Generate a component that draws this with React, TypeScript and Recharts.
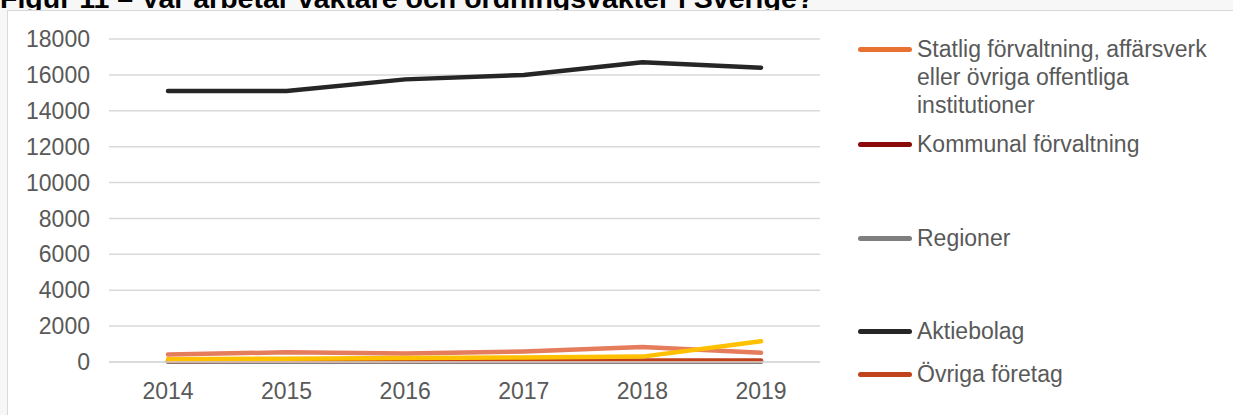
import React from 'react';
import { LineChart, Line, XAxis, YAxis, CartesianGrid, Legend } from 'recharts';

const years = ['2014', '2015', '2016', '2017', '2018', '2019'];
const statlig = [420, 540, 480, 590, 830, 510];
const kommunal = [40, 40, 40, 40, 40, 40];
const regioner = [10, 10, 10, 10, 10, 10];
const aktiebolag = [15100, 15100, 15750, 16000, 16700, 16400];
const ovrigaForetag = [60, 70, 80, 80, 90, 80];
const ovrigt = [160, 180, 220, 250, 300, 1160];
const yTicks = [0, 2000, 4000, 6000, 8000, 10000, 12000, 14000, 16000, 18000];

const FONT = '"Liberation Sans", Arial, sans-serif';

// the yellow series' legend entry lies below the visible area in the reference
const series = [
  { key: 'statlig', name: 'Statlig förvaltning, affärsverk eller övriga offentliga institutioner', lines: ['Statlig förvaltning, affärsverk', 'eller övriga offentliga', 'institutioner'], color: '#E57C5C', legendColor: '#E97132', top: 49 },
  { key: 'kommunal', name: 'Kommunal förvaltning', color: '#8B0A0A', legendColor: '#8B0A0A', top: 144 },
  { key: 'regioner', name: 'Regioner', color: '#7F7F7F', legendColor: '#7F7F7F', top: 238 },
  { key: 'aktiebolag', name: 'Aktiebolag', color: '#262626', legendColor: '#262626', top: 331 },
  { key: 'ovrigaForetag', name: 'Övriga företag', color: '#C0431C', legendColor: '#C0431C', top: 374 },
  { key: 'ovrigt', name: 'Övrigt', color: '#FFC000', legendColor: '#FFC000', top: null },
];

const data = years.map((year, i) => ({
  year,
  statlig: statlig[i],
  kommunal: kommunal[i],
  regioner: regioner[i],
  aktiebolag: aktiebolag[i],
  ovrigaForetag: ovrigaForetag[i],
  ovrigt: ovrigt[i],
}));

// legend drawn like the Excel one: line icon then (possibly wrapped) text
const renderLegend = () => (
  <div style={{ position: 'relative', width: 383, height: 415 }}>
    {series.filter(s => s.top !== null).map(s => {
      const lines = s.lines || [s.name];
      return (
        <div key={s.key} style={{ position: 'absolute', left: 0, top: (s.top as number) - 14 }}>
          <div style={{ position: 'absolute', left: 8, top: 12, width: 54, height: 5, borderRadius: 3, background: s.legendColor }} />
          <div style={{ position: 'absolute', left: 67, top: 0, whiteSpace: 'nowrap', fontSize: 23, lineHeight: '28px', color: '#595959', fontFamily: FONT }}>
            {lines.map((l, i) => <div key={i}>{l}</div>)}
          </div>
        </div>
      );
    })}
  </div>
);

export default function App() {
  return (
    <div style={{ position: 'absolute', left: 0, top: 0, width: 1233, height: 415, overflow: 'hidden', background: '#F7F7F7', fontFamily: FONT }}>
      <div style={{ position: 'absolute', left: 0, top: -16, fontSize: 28.5, lineHeight: '28.5px', fontWeight: 'bold', color: '#000', whiteSpace: 'nowrap' }}>
        Figur 11 – Var arbetar väktare och ordningsvakter i Sverige?
      </div>
      <div style={{ position: 'absolute', left: 7, top: 10, width: 1240, height: 420, border: '1px solid #D9D9D9', background: '#FFFFFF' }} />
      <div style={{ position: 'absolute', left: 0, top: 0 }}>
        <LineChart width={1233} height={415} data={data} margin={{ top: 39, right: 413, bottom: 23, left: 0 }}>
          <CartesianGrid vertical={false} stroke="#D9D9D9" strokeWidth={1.5} />
          <XAxis
            dataKey="year"
            height={30}
            padding={{ left: 59, right: 59 }}
            axisLine={{ stroke: '#D9D9D9', strokeWidth: 1.5 }}
            tickLine={false}
            tickMargin={15}
            tick={{ fontSize: 23, fill: '#595959', fontFamily: FONT }}
          />
          <YAxis
            width={109}
            domain={[0, 18000]}
            ticks={yTicks}
            axisLine={false}
            tickLine={false}
            tickMargin={13}
            tick={{ fontSize: 23, fill: '#595959', fontFamily: FONT }}
          />
          <Legend
            layout="vertical"
            align="center"
            verticalAlign="middle"
            content={renderLegend}
            wrapperStyle={{ left: 850, top: 0, width: 383, height: 415 }}
          />
          {series.map(s => (
            <Line
              key={s.key}
              type="linear"
              dataKey={s.key}
              name={s.name}
              stroke={s.color}
              strokeWidth={4.5}
              strokeLinecap="round"
              strokeLinejoin="round"
              dot={false}
              activeDot={false}
              isAnimationActive={false}
            />
          ))}
        </LineChart>
      </div>
    </div>
  );
}
